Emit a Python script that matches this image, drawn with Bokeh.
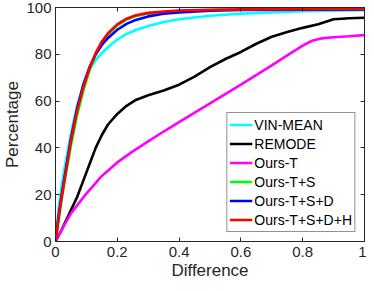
from bokeh.plotting import figure
from bokeh.models import Range1d, LinearAxis, FixedTicker, Legend, LegendItem
from bokeh.embed import file_html
from bokeh.resources import INLINE

# ---- data ----
x_fast = [0, 0.01, 0.02, 0.03, 0.05, 0.07, 0.09, 0.11, 0.13, 0.15, 0.17, 0.2,
          0.23, 0.26, 0.3, 0.35, 0.4, 0.5, 0.6, 0.8, 1.0]
vin_mean = [0, 14, 24, 32, 46, 58, 67, 73.5, 77.5, 80.5, 83, 86.3, 88.7, 90.4,
            92.1, 93.8, 95, 96.5, 97.4, 98.4, 98.8]
ours_ts = [0, 9, 18, 26, 41, 54, 64.5, 73, 80, 85, 88.5, 92.3, 94.8, 96.3,
           97.4, 98.1, 98.5, 98.9, 99.1, 99.2, 99.3]
ours_tsd = [0, 11, 20, 28, 44, 57, 67, 74.5, 80, 84, 87, 90.5, 93, 94.7,
            96.2, 97.3, 97.9, 98.6, 98.9, 99.1, 99.2]
ours_tsdh = [0, 10, 19, 27, 43, 56, 66, 74, 80.5, 85.5, 89, 92.8, 95.2, 96.7,
             97.7, 98.3, 98.7, 99.0, 99.2, 99.3, 99.4]

x_remode = [0, 0.02, 0.045, 0.07, 0.09, 0.11, 0.13, 0.15, 0.17, 0.2, 0.23, 0.26,
            0.3, 0.35, 0.4, 0.45, 0.5, 0.55, 0.6, 0.65, 0.7, 0.75, 0.8, 0.85,
            0.9, 0.95, 1.0]
remode = [0, 5, 12, 19, 26, 33, 40, 45.5, 50, 54.5, 58, 60.5, 62.5, 64.5, 67,
          70.5, 74.5, 78, 81, 84.5, 87.5, 89.5, 91.3, 92.8, 95, 95.4, 95.6]

x_ourst = [0, 0.02, 0.05, 0.1, 0.15, 0.2, 0.25, 0.3, 0.35, 0.4, 0.5, 0.6, 0.7,
           0.75, 0.8, 0.83, 0.86, 0.9, 0.95, 1.0]
ours_t = [0, 5, 12, 20.5, 28, 33.8, 38.5, 42.8, 47, 51, 59, 67, 75.3, 79.5,
          83.7, 85.8, 86.8, 87.3, 87.7, 88.2]

x_ticks = [0, 0.2, 0.4, 0.6, 0.8, 1]
x_tick_labels = ["0", "0.2", "0.4", "0.6", "0.8", "1"]
y_ticks = [0, 20, 40, 60, 80, 100]
y_tick_labels = ["0", "20", "40", "60", "80", "100"]

series = [
    ("VIN-MEAN", x_fast, vin_mean, "#00FFFF"),
    ("REMODE", x_remode, remode, "#000000"),
    ("Ours-T", x_ourst, ours_t, "#FF00FF"),
    ("Ours-T+S", x_fast, ours_ts, "#00FF00"),
    ("Ours-T+S+D", x_fast, ours_tsd, "#0000FF"),
    ("Ours-T+S+D+H", x_fast, ours_tsdh, "#FF0000"),
]

FONT = "Liberation Sans"
TXT = "#262626"

p = figure(width=366, height=283, output_backend="svg", toolbar_location=None,
           x_range=Range1d(0, 1), y_range=Range1d(0, 100),
           min_border_top=7, min_border_right=2, min_border_left=52,
           min_border_bottom=42, background_fill_color="white",
           border_fill_color="white")
p.xgrid.visible = False
p.ygrid.visible = False
p.outline_line_color = TXT
p.outline_line_width = 1

items = []
for name, xs, ys, col in series:
    r = p.line(xs, ys, line_color=col, line_width=2.6)
    items.append(LegendItem(label=name, renderers=[r]))

def style_axis(ax, ticks, labels, show):
    ax.ticker = FixedTicker(ticks=ticks)
    ax.axis_line_color = TXT
    ax.major_tick_line_color = TXT
    ax.major_tick_in = 4
    ax.major_tick_out = 0
    ax.minor_tick_line_color = None
    if show:
        ax.major_label_overrides = {t: l for t, l in zip(ticks, labels)}
        ax.major_label_text_font = FONT
        ax.major_label_text_font_size = "15px"
        ax.major_label_text_color = TXT
    else:
        ax.major_label_overrides = {t: "" for t in ticks}
        ax.major_label_standoff = 0

style_axis(p.xaxis[0], x_ticks, x_tick_labels, True)
style_axis(p.yaxis[0], y_ticks, y_tick_labels, True)
p.xaxis[0].axis_label = "Difference"
p.yaxis[0].axis_label = "Percentage"
for ax in (p.xaxis[0], p.yaxis[0]):
    ax.axis_label_text_font = FONT
    ax.axis_label_text_font_size = "17px"
    ax.axis_label_text_font_style = "normal"
    ax.axis_label_text_color = TXT
p.xaxis[0].major_label_standoff = 5
p.xaxis[0].axis_label_standoff = 1
p.yaxis[0].major_label_standoff = 4
p.yaxis[0].axis_label_standoff = 1

top_ax = LinearAxis()
right_ax = LinearAxis()
style_axis(top_ax, x_ticks, x_tick_labels, False)
style_axis(right_ax, y_ticks, y_tick_labels, False)
p.add_layout(top_ax, "above")
p.add_layout(right_ax, "right")

legend = Legend(items=items, location="bottom_right")
legend.margin = 9
legend.padding = 2
legend.spacing = 0
legend.glyph_width = 23
legend.glyph_height = 19
legend.label_height = 19
legend.label_standoff = 2
legend.label_text_font = FONT
legend.label_text_font_size = "14px"
legend.label_text_color = "#000000"
legend.border_line_color = TXT
legend.border_line_width = 1
legend.background_fill_color = "white"
legend.background_fill_alpha = 1
p.add_layout(legend, "center")

open("out.html", "w").write(file_html(p, INLINE))
